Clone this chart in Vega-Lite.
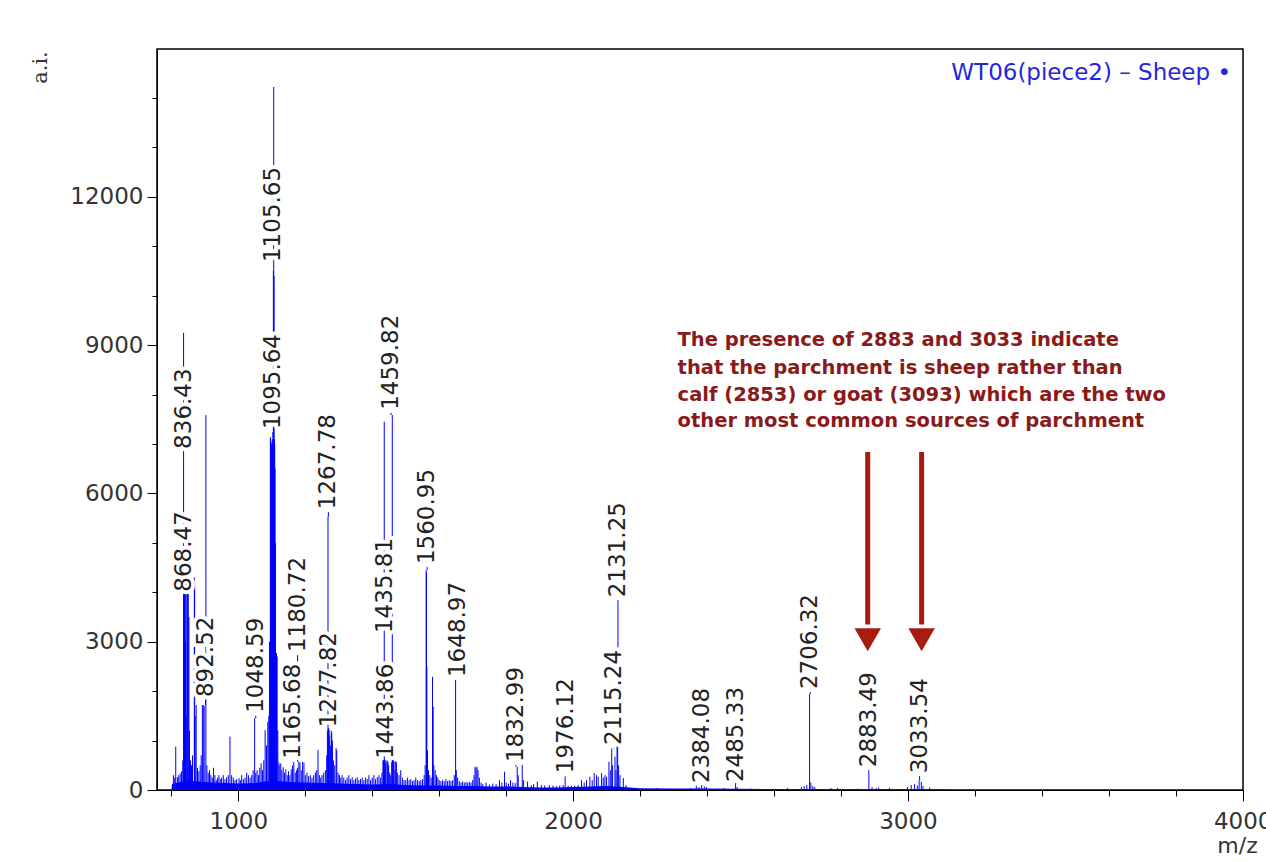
{
  "$schema": "https://vega.github.io/schema/vega-lite/v6.json",
  "width": 1086,
  "height": 741,
  "autosize": {"type": "none"},
  "padding": {"left": 157, "top": 49, "right": 23, "bottom": 72},
  "background": "white",
  "config": {
    "view": {"stroke": "black", "strokeWidth": 1.5},
    "axis": {"grid": false, "domainColor": "black", "tickColor": "black", "labelColor": "#333333", "labelFont": "DejaVu Sans", "labelFontSize": 23, "titleFont": "DejaVu Sans", "titleFontWeight": "normal", "titleColor": "#333333"}
  },
  "title": {"text": "WT06(piece2) – Sheep •", "anchor": "end", "orient": "top", "offset": -36, "dx": -12, "color": "#2626dc", "font": "DejaVu Sans", "fontSize": 23, "fontWeight": "normal", "frame": "group"},
  "datasets": {
    "baseline": [
      {"mz": 800, "base": 0}, {"mz": 802, "base": 120}, {"mz": 820, "base": 150}, {"mz": 850, "base": 190}, {"mz": 880, "base": 170}, {"mz": 920, "base": 150}, {"mz": 960, "base": 140}, {"mz": 1000, "base": 130}, {"mz": 1050, "base": 140}, {"mz": 1100, "base": 190}, {"mz": 1150, "base": 160}, {"mz": 1200, "base": 150}, {"mz": 1250, "base": 140}, {"mz": 1300, "base": 130}, {"mz": 1350, "base": 120}, {"mz": 1400, "base": 110}, {"mz": 1450, "base": 120}, {"mz": 1500, "base": 100}, {"mz": 1550, "base": 90}, {"mz": 1600, "base": 90}, {"mz": 1650, "base": 80}, {"mz": 1700, "base": 80}, {"mz": 1750, "base": 70}, {"mz": 1800, "base": 70}, {"mz": 1850, "base": 60}, {"mz": 1900, "base": 50}, {"mz": 1950, "base": 50}, {"mz": 2000, "base": 60}, {"mz": 2050, "base": 70}, {"mz": 2100, "base": 80}, {"mz": 2150, "base": 60}, {"mz": 2200, "base": 35}, {"mz": 2300, "base": 30}, {"mz": 2400, "base": 30}, {"mz": 2500, "base": 25}, {"mz": 2600, "base": 20}, {"mz": 2700, "base": 20}, {"mz": 2800, "base": 15}, {"mz": 2900, "base": 15}, {"mz": 3000, "base": 15}, {"mz": 3100, "base": 10}, {"mz": 3150, "base": 0}
    ],
    "peaks": [
      {"mz": 806, "ai": 300}, {"mz": 810, "ai": 250}, {"mz": 813, "ai": 880}, {"mz": 818, "ai": 260}, {"mz": 822, "ai": 300}, {"mz": 826, "ai": 330}, {"mz": 830, "ai": 380}, {"mz": 834, "ai": 600},
      {"mz": 836.43, "ai": 9250}, {"mz": 837.4, "ai": 4450}, {"mz": 838.4, "ai": 4400}, {"mz": 839.4, "ai": 4350}, {"mz": 840.4, "ai": 4300}, {"mz": 841.4, "ai": 4200}, {"mz": 842.5, "ai": 3000}, {"mz": 844, "ai": 1500}, {"mz": 846, "ai": 4400}, {"mz": 848, "ai": 4300}, {"mz": 850.4, "ai": 4200}, {"mz": 852.4, "ai": 3500}, {"mz": 854, "ai": 1200}, {"mz": 857, "ai": 600}, {"mz": 860, "ai": 500}, {"mz": 863, "ai": 700},
      {"mz": 868.47, "ai": 4300}, {"mz": 869.5, "ai": 4200}, {"mz": 871, "ai": 1500}, {"mz": 874, "ai": 1720}, {"mz": 878, "ai": 450}, {"mz": 882, "ai": 380}, {"mz": 886, "ai": 500}, {"mz": 889, "ai": 700},
      {"mz": 892.52, "ai": 1720}, {"mz": 895, "ai": 1720}, {"mz": 898, "ai": 1700}, {"mz": 903, "ai": 7585}, {"mz": 906, "ai": 500}, {"mz": 910, "ai": 350}, {"mz": 914, "ai": 400}, {"mz": 918, "ai": 300}, {"mz": 922, "ai": 250}, {"mz": 926, "ai": 450}, {"mz": 930, "ai": 300}, {"mz": 934, "ai": 200}, {"mz": 938, "ai": 250}, {"mz": 942, "ai": 300}, {"mz": 946, "ai": 220}, {"mz": 950, "ai": 250}, {"mz": 955, "ai": 300}, {"mz": 960, "ai": 220}, {"mz": 965, "ai": 260}, {"mz": 970, "ai": 300}, {"mz": 975, "ai": 1080}, {"mz": 980, "ai": 300}, {"mz": 985, "ai": 250}, {"mz": 990, "ai": 200}, {"mz": 995, "ai": 220}, {"mz": 1002, "ai": 240}, {"mz": 1006, "ai": 200},
      {"mz": 1010, "ai": 300}, {"mz": 1015, "ai": 220}, {"mz": 1020, "ai": 250}, {"mz": 1025, "ai": 350}, {"mz": 1030, "ai": 300}, {"mz": 1035, "ai": 250}, {"mz": 1040, "ai": 300}, {"mz": 1044, "ai": 400}, {"mz": 1048.59, "ai": 1450}, {"mz": 1052, "ai": 350}, {"mz": 1056, "ai": 400}, {"mz": 1060, "ai": 300}, {"mz": 1064, "ai": 450}, {"mz": 1068, "ai": 540}, {"mz": 1072, "ai": 400}, {"mz": 1076, "ai": 600}, {"mz": 1080, "ai": 1210}, {"mz": 1084, "ai": 900}, {"mz": 1088, "ai": 1380}, {"mz": 1091, "ai": 1500}, {"mz": 1093, "ai": 3000},
      {"mz": 1095.64, "ai": 7140}, {"mz": 1096.6, "ai": 7100}, {"mz": 1097.6, "ai": 7050}, {"mz": 1098.6, "ai": 7000}, {"mz": 1099.6, "ai": 6900}, {"mz": 1100.6, "ai": 6800}, {"mz": 1101.6, "ai": 7000}, {"mz": 1102.6, "ai": 7100}, {"mz": 1103.6, "ai": 7150}, {"mz": 1104.6, "ai": 10500}, {"mz": 1105.65, "ai": 14220}, {"mz": 1106.6, "ai": 10400}, {"mz": 1107.6, "ai": 7100}, {"mz": 1108.6, "ai": 7000}, {"mz": 1109.6, "ai": 6500}, {"mz": 1111, "ai": 5000}, {"mz": 1112.5, "ai": 2770}, {"mz": 1114, "ai": 2770}, {"mz": 1116, "ai": 2700}, {"mz": 1118, "ai": 1200}, {"mz": 1121, "ai": 550}, {"mz": 1124, "ai": 500}, {"mz": 1127, "ai": 540}, {"mz": 1130, "ai": 400}, {"mz": 1134, "ai": 460}, {"mz": 1138, "ai": 350}, {"mz": 1142, "ai": 420}, {"mz": 1146, "ai": 300}, {"mz": 1150, "ai": 380},
      {"mz": 1154, "ai": 300}, {"mz": 1158, "ai": 420}, {"mz": 1162, "ai": 500}, {"mz": 1165.68, "ai": 560}, {"mz": 1170, "ai": 350}, {"mz": 1174, "ai": 400}, {"mz": 1177, "ai": 450}, {"mz": 1180.72, "ai": 570}, {"mz": 1184, "ai": 560}, {"mz": 1188, "ai": 400}, {"mz": 1192, "ai": 570}, {"mz": 1196, "ai": 550}, {"mz": 1200, "ai": 300}, {"mz": 1205, "ai": 350}, {"mz": 1210, "ai": 280}, {"mz": 1215, "ai": 300}, {"mz": 1220, "ai": 250}, {"mz": 1225, "ai": 300}, {"mz": 1230, "ai": 350}, {"mz": 1234, "ai": 400}, {"mz": 1238, "ai": 810}, {"mz": 1242, "ai": 300}, {"mz": 1246, "ai": 250}, {"mz": 1250, "ai": 300}, {"mz": 1255, "ai": 350}, {"mz": 1260, "ai": 400}, {"mz": 1264, "ai": 700}, {"mz": 1266, "ai": 1200},
      {"mz": 1267.78, "ai": 5530}, {"mz": 1268.8, "ai": 1250}, {"mz": 1269.8, "ai": 1250}, {"mz": 1271, "ai": 1200}, {"mz": 1273, "ai": 1100}, {"mz": 1275, "ai": 900}, {"mz": 1277.82, "ai": 1200}, {"mz": 1279, "ai": 1150}, {"mz": 1281, "ai": 1000}, {"mz": 1284, "ai": 600}, {"mz": 1288, "ai": 500}, {"mz": 1292, "ai": 850}, {"mz": 1294, "ai": 800}, {"mz": 1298, "ai": 350},
      {"mz": 1302, "ai": 300}, {"mz": 1306, "ai": 250}, {"mz": 1310, "ai": 300}, {"mz": 1315, "ai": 250}, {"mz": 1320, "ai": 200}, {"mz": 1325, "ai": 250}, {"mz": 1330, "ai": 300}, {"mz": 1335, "ai": 220}, {"mz": 1340, "ai": 260}, {"mz": 1345, "ai": 200}, {"mz": 1350, "ai": 230}, {"mz": 1355, "ai": 260}, {"mz": 1360, "ai": 200}, {"mz": 1365, "ai": 220}, {"mz": 1370, "ai": 250}, {"mz": 1375, "ai": 200}, {"mz": 1380, "ai": 250}, {"mz": 1385, "ai": 220}, {"mz": 1390, "ai": 300}, {"mz": 1395, "ai": 200}, {"mz": 1400, "ai": 250}, {"mz": 1405, "ai": 300}, {"mz": 1410, "ai": 220}, {"mz": 1415, "ai": 260}, {"mz": 1420, "ai": 300}, {"mz": 1425, "ai": 250}, {"mz": 1429, "ai": 350},
      {"mz": 1432, "ai": 600}, {"mz": 1433.5, "ai": 600}, {"mz": 1435.81, "ai": 7450}, {"mz": 1437, "ai": 620}, {"mz": 1438.5, "ai": 600}, {"mz": 1440, "ai": 550}, {"mz": 1443.86, "ai": 600}, {"mz": 1445, "ai": 580}, {"mz": 1447, "ai": 560}, {"mz": 1449, "ai": 500}, {"mz": 1452, "ai": 350}, {"mz": 1455, "ai": 300}, {"mz": 1458, "ai": 560}, {"mz": 1459.82, "ai": 7585}, {"mz": 1461, "ai": 600}, {"mz": 1463, "ai": 600}, {"mz": 1465, "ai": 580}, {"mz": 1468, "ai": 400}, {"mz": 1470, "ai": 580}, {"mz": 1472, "ai": 560}, {"mz": 1475, "ai": 350}, {"mz": 1480, "ai": 300}, {"mz": 1485, "ai": 400}, {"mz": 1490, "ai": 250}, {"mz": 1495, "ai": 200},
      {"mz": 1500, "ai": 200}, {"mz": 1505, "ai": 250}, {"mz": 1510, "ai": 200}, {"mz": 1515, "ai": 220}, {"mz": 1520, "ai": 180}, {"mz": 1525, "ai": 200}, {"mz": 1530, "ai": 250}, {"mz": 1535, "ai": 200}, {"mz": 1540, "ai": 180}, {"mz": 1545, "ai": 200}, {"mz": 1550, "ai": 220}, {"mz": 1555, "ai": 300}, {"mz": 1558, "ai": 500}, {"mz": 1560.95, "ai": 4450}, {"mz": 1562, "ai": 4400}, {"mz": 1563, "ai": 2500}, {"mz": 1565, "ai": 800}, {"mz": 1568, "ai": 400}, {"mz": 1572, "ai": 300}, {"mz": 1576, "ai": 250}, {"mz": 1580, "ai": 2290}, {"mz": 1582, "ai": 1680}, {"mz": 1584, "ai": 500}, {"mz": 1588, "ai": 400}, {"mz": 1592, "ai": 300}, {"mz": 1596, "ai": 250}, {"mz": 1600, "ai": 200}, {"mz": 1605, "ai": 180}, {"mz": 1610, "ai": 200}, {"mz": 1615, "ai": 180}, {"mz": 1620, "ai": 220}, {"mz": 1625, "ai": 180}, {"mz": 1630, "ai": 200}, {"mz": 1635, "ai": 180}, {"mz": 1640, "ai": 200}, {"mz": 1645, "ai": 300}, {"mz": 1648.97, "ai": 2225}, {"mz": 1651, "ai": 400}, {"mz": 1655, "ai": 250}, {"mz": 1660, "ai": 180}, {"mz": 1665, "ai": 150}, {"mz": 1670, "ai": 170}, {"mz": 1675, "ai": 150}, {"mz": 1680, "ai": 160}, {"mz": 1685, "ai": 150}, {"mz": 1690, "ai": 160}, {"mz": 1695, "ai": 150}, {"mz": 1700, "ai": 200}, {"mz": 1704, "ai": 300}, {"mz": 1707, "ai": 470}, {"mz": 1710, "ai": 450}, {"mz": 1713, "ai": 470}, {"mz": 1716, "ai": 400}, {"mz": 1720, "ai": 250}, {"mz": 1725, "ai": 150},
      {"mz": 1730, "ai": 120}, {"mz": 1740, "ai": 150}, {"mz": 1750, "ai": 110}, {"mz": 1760, "ai": 130}, {"mz": 1770, "ai": 120}, {"mz": 1780, "ai": 200}, {"mz": 1787, "ai": 150}, {"mz": 1795, "ai": 370}, {"mz": 1800, "ai": 150}, {"mz": 1807, "ai": 130}, {"mz": 1813, "ai": 200}, {"mz": 1820, "ai": 150}, {"mz": 1827, "ai": 140}, {"mz": 1832.99, "ai": 470}, {"mz": 1836, "ai": 300}, {"mz": 1848, "ai": 505}, {"mz": 1852, "ai": 200}, {"mz": 1864, "ai": 170}, {"mz": 1875, "ai": 100}, {"mz": 1882, "ai": 120}, {"mz": 1893, "ai": 170}, {"mz": 1905, "ai": 100}, {"mz": 1915, "ai": 90}, {"mz": 1929, "ai": 100}, {"mz": 1940, "ai": 90}, {"mz": 1950, "ai": 80}, {"mz": 1960, "ai": 90}, {"mz": 1970, "ai": 100}, {"mz": 1976.12, "ai": 270}, {"mz": 1985, "ai": 90}, {"mz": 1995, "ai": 80}, {"mz": 2005, "ai": 90}, {"mz": 2015, "ai": 100}, {"mz": 2025, "ai": 200}, {"mz": 2033, "ai": 150}, {"mz": 2040, "ai": 200}, {"mz": 2050, "ai": 270}, {"mz": 2057, "ai": 200}, {"mz": 2063, "ai": 340}, {"mz": 2070, "ai": 300}, {"mz": 2075, "ai": 270}, {"mz": 2085, "ai": 340}, {"mz": 2090, "ai": 250}, {"mz": 2095, "ai": 300}, {"mz": 2100, "ai": 270}, {"mz": 2107, "ai": 570}, {"mz": 2111, "ai": 400}, {"mz": 2115.24, "ai": 840}, {"mz": 2118, "ai": 500}, {"mz": 2125, "ai": 675}, {"mz": 2128, "ai": 400}, {"mz": 2131.25, "ai": 910}, {"mz": 2133, "ai": 880}, {"mz": 2136, "ai": 500}, {"mz": 2140, "ai": 300}, {"mz": 2150, "ai": 240}, {"mz": 2158, "ai": 100},
      {"mz": 2250, "ai": 40}, {"mz": 2350, "ai": 40}, {"mz": 2368, "ai": 90}, {"mz": 2376, "ai": 60}, {"mz": 2384.08, "ai": 100}, {"mz": 2392, "ai": 70}, {"mz": 2398, "ai": 60}, {"mz": 2450, "ai": 40}, {"mz": 2485.33, "ai": 140}, {"mz": 2490, "ai": 60}, {"mz": 2530, "ai": 30}, {"mz": 2640, "ai": 40}, {"mz": 2682, "ai": 60}, {"mz": 2690, "ai": 80}, {"mz": 2698, "ai": 100}, {"mz": 2706.32, "ai": 1950}, {"mz": 2710, "ai": 150}, {"mz": 2716, "ai": 80}, {"mz": 2722, "ai": 60}, {"mz": 2770, "ai": 40}, {"mz": 2790, "ai": 40}, {"mz": 2850, "ai": 30}, {"mz": 2883.49, "ai": 330}, {"mz": 2893, "ai": 60}, {"mz": 2905, "ai": 40}, {"mz": 2913, "ai": 50}, {"mz": 2945, "ai": 40}, {"mz": 2999, "ai": 60}, {"mz": 3010, "ai": 100}, {"mz": 3020, "ai": 120}, {"mz": 3028, "ai": 90}, {"mz": 3033.54, "ai": 190}, {"mz": 3040, "ai": 170}, {"mz": 3045, "ai": 80}, {"mz": 3065, "ai": 50}, {"mz": 3115, "ai": 20}
    ],
    "labels": [
      {"t": "836.43", "mz": 836.43, "ai": 9250, "lx": 839, "ly": 6840},
      {"t": "868.47", "mz": 868.47, "ai": 4300, "lx": 839, "ly": 3950},
      {"t": "892.52", "mz": 892.52, "ai": 1720, "lx": 902, "ly": 1820},
      {"t": "1048.59", "mz": 1048.59, "ai": 1450, "lx": 1052, "ly": 1500},
      {"t": "1095.64", "mz": 1095.64, "ai": 7140, "lx": 1103, "ly": 7240},
      {"t": "1105.65", "mz": 1105.65, "ai": 14220, "lx": 1103, "ly": 10620},
      {"t": "1165.68", "mz": 1165.68, "ai": 560, "lx": 1162, "ly": 570},
      {"t": "1180.72", "mz": 1180.72, "ai": 570, "lx": 1177, "ly": 2730},
      {"t": "1267.78", "mz": 1267.78, "ai": 5530, "lx": 1269, "ly": 5620},
      {"t": "1277.82", "mz": 1277.82, "ai": 1200, "lx": 1272, "ly": 1210},
      {"t": "1435.81", "mz": 1435.81, "ai": 7450, "lx": 1438, "ly": 3115},
      {"t": "1443.86", "mz": 1443.86, "ai": 600, "lx": 1441, "ly": 570},
      {"t": "1459.82", "mz": 1459.82, "ai": 7585, "lx": 1456, "ly": 7630},
      {"t": "1560.95", "mz": 1560.95, "ai": 4450, "lx": 1564, "ly": 4510},
      {"t": "1648.97", "mz": 1648.97, "ai": 2225, "lx": 1656, "ly": 2225},
      {"t": "1832.99", "mz": 1832.99, "ai": 470, "lx": 1829, "ly": 505},
      {"t": "1976.12", "mz": 1976.12, "ai": 270, "lx": 1978, "ly": 280},
      {"t": "2115.24", "mz": 2115.24, "ai": 840, "lx": 2121, "ly": 850},
      {"t": "2131.25", "mz": 2131.25, "ai": 910, "lx": 2134, "ly": 3840},
      {"t": "2384.08", "mz": 2384.08, "ai": 100, "lx": 2384, "ly": 80},
      {"t": "2485.33", "mz": 2485.33, "ai": 140, "lx": 2488, "ly": 100},
      {"t": "2706.32", "mz": 2706.32, "ai": 1950, "lx": 2709, "ly": 1980},
      {"t": "2883.49", "mz": 2883.49, "ai": 330, "lx": 2883, "ly": 400},
      {"t": "3033.54", "mz": 3033.54, "ai": 190, "lx": 3035, "ly": 280}
    ],
    "arrows": [
      {"mz": 2880, "top": 6840, "bottom": 3350, "head": 3040},
      {"mz": 3041, "top": 6840, "bottom": 3350, "head": 3040}
    ],
    "note": [
      {"mz": 2312, "ai": 9100, "t": "The presence of 2883 and 3033 indicate"},
      {"mz": 2312, "ai": 8535, "t": "that the parchment is sheep rather than"},
      {"mz": 2312, "ai": 7990, "t": "calf (2853) or goat (3093) which are the two"},
      {"mz": 2312, "ai": 7464, "t": "other most common sources of parchment"}
    ]
  },
  "layer": [
    {
      "data": {"name": "baseline"},
      "mark": {"type": "area", "color": "#0000ff", "clip": true},
      "encoding": {
        "x": {"field": "mz", "type": "quantitative", "title": "m/z", "scale": {"domain": [757, 4001], "nice": false, "zero": false},
          "axis": {"values": [800,900,1000,1100,1200,1300,1400,1500,1600,1700,1800,1900,2000,2100,2200,2300,2400,2500,2600,2700,2800,2900,3000,3100,3200,3300,3400,3500,3600,3700,3800,3900,4000],
            "format": "d", "labelExpr": "datum.value % 500 === 0 ? datum.label : ''", "labelOverlap": false, "labelFlush": false,
            "tickSize": {"condition": {"test": "datum.value % 500 === 0", "value": 11}, "value": 6},
            "labelPadding": 9, "titleX": 1080, "titleY": 55, "titleAlign": "center", "titleBaseline": "middle", "titleFontSize": 22}},
        "y": {"field": "base", "type": "quantitative", "title": "a.i.", "scale": {"domain": [0, 14990], "nice": false},
          "axis": {"values": [0,1000,2000,3000,4000,5000,6000,7000,8000,9000,10000,11000,12000,13000,14000],
            "format": "d", "labelExpr": "datum.value % 3000 === 0 ? datum.label : ''", "labelOverlap": false, "labelFlush": false,
            "tickSize": {"condition": {"test": "datum.value % 3000 === 0", "value": 10}, "value": 5},
            "labelPadding": 4, "titleAngle": 270, "titleX": -117, "titleY": 18, "titleAlign": "center", "titleBaseline": "middle", "titleFont": "DejaVu Serif", "titleFontSize": 21}}
      }
    },
    {
      "data": {"name": "peaks"},
      "mark": {"type": "rule", "color": "#0000ff", "strokeWidth": 1},
      "encoding": {
        "x": {"field": "mz", "type": "quantitative", "title": "m/z"},
        "y": {"field": "ai", "type": "quantitative", "title": "a.i."},
        "y2": {"datum": 0}
      }
    },
    {
      "data": {"name": "labels"},
      "transform": [{"filter": "datum.ly > datum.ai"}],
      "mark": {"type": "rule", "color": "#0000ff", "strokeWidth": 1},
      "encoding": {
        "x": {"field": "lx", "type": "quantitative", "title": "m/z"},
        "y": {"field": "ai", "type": "quantitative", "title": "a.i."},
        "y2": {"field": "ly"}
      }
    },
    {
      "data": {"name": "labels"},
      "mark": {"type": "text", "angle": 270, "align": "left", "baseline": "middle", "dx": 3, "font": "DejaVu Sans", "fontSize": 23, "fill": "white", "stroke": "white", "strokeWidth": 8, "strokeJoin": "round"},
      "encoding": {
        "x": {"field": "lx", "type": "quantitative", "title": "m/z"},
        "y": {"field": "ly", "type": "quantitative", "title": "a.i."},
        "text": {"field": "t"}
      }
    },
    {
      "data": {"name": "labels"},
      "mark": {"type": "text", "angle": 270, "align": "left", "baseline": "middle", "dx": 3, "font": "DejaVu Sans", "fontSize": 23, "color": "#222222"},
      "encoding": {
        "x": {"field": "lx", "type": "quantitative", "title": "m/z"},
        "y": {"field": "ly", "type": "quantitative", "title": "a.i."},
        "text": {"field": "t"}
      }
    },
    {
      "data": {"name": "arrows"},
      "mark": {"type": "rule", "color": "#a81c10", "strokeWidth": 5},
      "encoding": {
        "x": {"field": "mz", "type": "quantitative", "title": "m/z"},
        "y": {"field": "top", "type": "quantitative", "title": "a.i."},
        "y2": {"field": "bottom"}
      }
    },
    {
      "data": {"name": "arrows"},
      "mark": {"type": "point", "shape": "triangle-down", "filled": true, "color": "#a81c10", "opacity": 1, "size": 700},
      "encoding": {
        "x": {"field": "mz", "type": "quantitative", "title": "m/z"},
        "y": {"field": "head", "type": "quantitative", "title": "a.i."}
      }
    },
    {
      "data": {"name": "note"},
      "mark": {"type": "text", "align": "left", "baseline": "middle", "font": "DejaVu Sans", "fontWeight": "bold", "fontSize": 19.5, "color": "#8a1a1a"},
      "encoding": {
        "x": {"field": "mz", "type": "quantitative", "title": "m/z"},
        "y": {"field": "ai", "type": "quantitative", "title": "a.i."},
        "text": {"field": "t"}
      }
    }
  ]
}
